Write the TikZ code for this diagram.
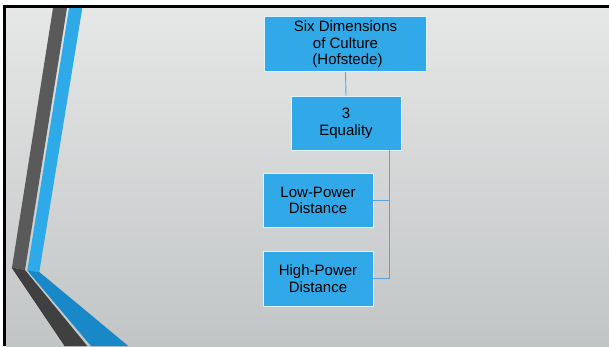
\documentclass[tikz,border=0pt]{standalone}
\usepackage{fontspec}
\setmainfont{Liberation Sans}
\usetikzlibrary{calc}
\definecolor{boxblue}{HTML}{31A9E9}
\definecolor{stripeblue}{HTML}{2EAAE8}
\definecolor{stripeblue2}{HTML}{1888C8}
\definecolor{darkgray1}{HTML}{5A5A5A}
\definecolor{darkgray2}{HTML}{404040}
\definecolor{linkblue}{HTML}{5FA3D6}
\definecolor{bgtop}{HTML}{E6E7E7}
\definecolor{bgmid}{HTML}{EFEFEF}
\definecolor{bgbot}{HTML}{C2C5C6}
\tikzset{
  orgbox/.style={draw=white!85!boxblue, line width=0.8pt, fill=boxblue,
    align=center, inner sep=0pt, font=\fontsize{15}{16.8}\selectfont,
    text=black, execute at begin node={\rule{0pt}{16.5pt}}},
  link/.style={draw=linkblue, line width=0.9pt}
}
\begin{document}
\begin{tikzpicture}[x=1pt,y=-1pt]
\useasboundingbox (0,0) rectangle (609,346);
% background
\fill[white] (0,0) rectangle (609,346);
\shade[top color=bgtop, middle color=bgmid, bottom color=bgbot] (6,8) rectangle (609,346);
% frame lines
\fill[black] (3.3,5) rectangle (609,8);
\fill[black] (3.3,5) rectangle (6,346);
% stripes
\fill[darkgray1] (53,8) -- (67,8) -- (25,270) -- (12,267.5) -- cycle;
\fill[stripeblue] (69,8) -- (82.3,8) -- (39.3,272) -- (27.3,270.5) -- cycle;
\fill[darkgray2] (12,267.5) -- (25,270) -- (87.3,346) -- (65,346) -- cycle;
\draw[black!80, line width=0.6pt] (12,267.5) -- (65,346);
\fill[stripeblue2] (27.3,270.5) -- (39.3,272) -- (128.3,346) -- (91,346) -- cycle;
% boxes
\node[orgbox, minimum width=162.5pt, minimum height=55pt] (top) at (345.5,44.3)
  {Six Dimensions\\of Culture\\\hspace{4pt}(Hofstede)};
\node[orgbox, minimum width=110pt, minimum height=54pt] (eq) at (346,123)
  {3\\Equality};
\node[orgbox, minimum width=110pt, minimum height=54.5pt] (low) at (318,200.5)
  {Low-Power\\Distance};
\node[orgbox, minimum width=110pt, minimum height=55pt] (high) at (318,278.5)
  {High-Power\\Distance};
\coordinate (tx) at (389.5,0);
% connectors
\draw[link] (top.south) -- (eq.north);
\draw[link] (eq.south -| tx) |- (low.east);
\draw[link] (eq.south -| tx) |- (high.east);
\end{tikzpicture}
\end{document}
